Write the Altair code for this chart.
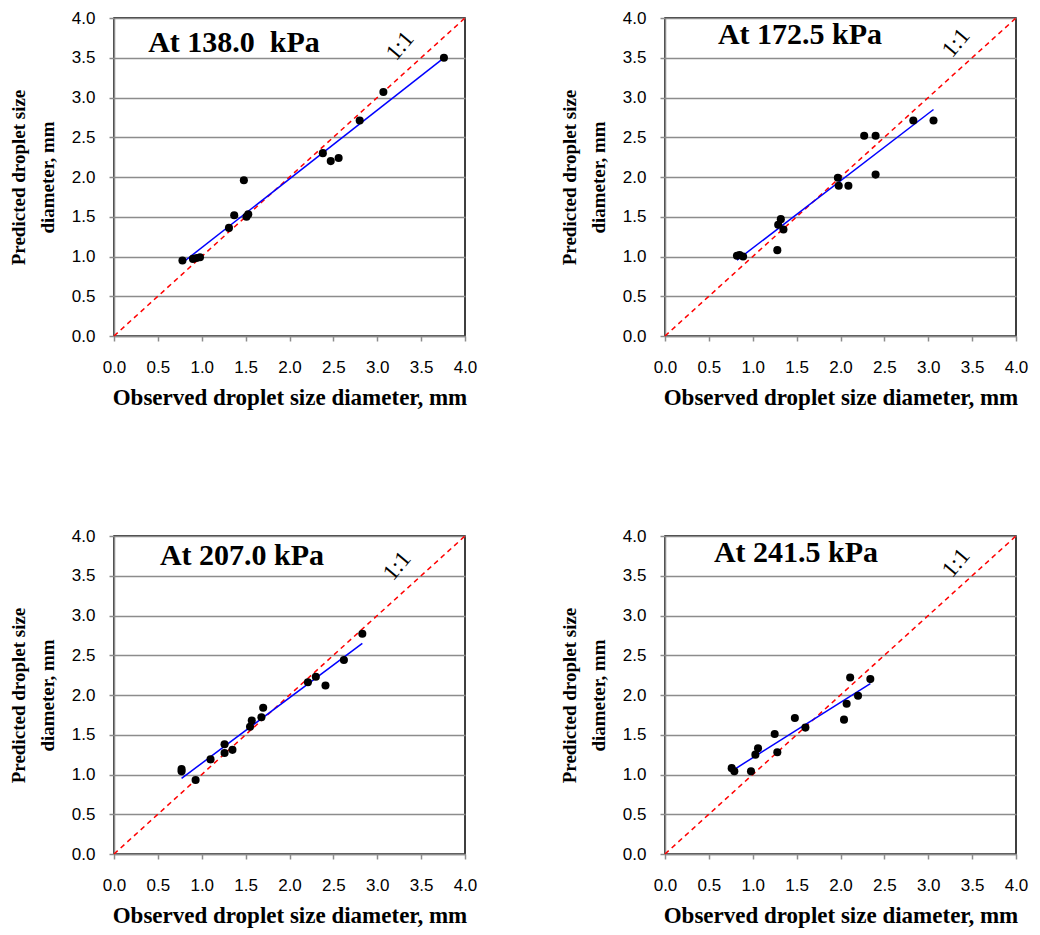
import altair as alt
import pandas as pd

# ---- data ----
obs_138 = [0.78, 0.90, 0.94, 0.98, 1.31, 1.37, 1.48, 1.51, 1.53, 2.38, 2.47, 2.56, 2.80, 3.07, 3.76]
pred_138 = [0.95, 0.97, 0.98, 0.99, 1.36, 1.52, 1.96, 1.50, 1.53, 2.30, 2.20, 2.24, 2.71, 3.07, 3.50]

obs_172 = [0.82, 0.85, 0.89, 1.28, 1.29, 1.32, 1.35, 1.97, 1.98, 2.09, 2.27, 2.40, 2.40, 2.83, 3.06]
pred_172 = [1.01, 1.02, 1.00, 1.08, 1.40, 1.47, 1.34, 1.99, 1.89, 1.89, 2.52, 2.52, 2.03, 2.71, 2.71]

obs_207 = [0.77, 0.77, 0.93, 1.10, 1.26, 1.26, 1.35, 1.55, 1.57, 1.68, 1.70, 2.21, 2.30, 2.41, 2.62, 2.83]
pred_207 = [1.07, 1.04, 0.93, 1.19, 1.38, 1.27, 1.31, 1.60, 1.68, 1.72, 1.84, 2.16, 2.23, 2.12, 2.44, 2.77]

obs_241 = [0.76, 0.79, 0.98, 1.03, 1.06, 1.25, 1.28, 1.48, 1.60, 2.04, 2.07, 2.11, 2.20, 2.34]
pred_241 = [1.08, 1.04, 1.04, 1.25, 1.33, 1.51, 1.28, 1.71, 1.59, 1.69, 1.89, 2.22, 1.99, 2.20]

titles = ["At 138.0 \u00a0kPa", "At 172.5 kPa", "At 207.0 kPa", "At 241.5 kPa"]
diag = [0.0, 4.0]
ticks = [0.0, 0.5, 1.0, 1.5, 2.0, 2.5, 3.0, 3.5, 4.0]

W, H = 351, 318
SERIF = "Liberation Serif"
SANS = "Liberation Sans"

# title & "1:1" label pixel positions inside each plot area (layout only)
title_pos = [(120, 25), (135, 17), (128, 20), (131, 17)]
one_pos = [(286, 28), (291, 25), (283, 30), (291, 27)]


def panel(obs, pred, title, tpos, opos):
    df = pd.DataFrame({"obs": obs, "pred": pred})
    ddf = pd.DataFrame({"obs": diag, "pred": diag})
    xsc = alt.Scale(domain=[0, 4], nice=False, zero=False)
    ysc = alt.Scale(domain=[0, 4], nice=False, zero=False)
    xenc = alt.X("obs:Q", scale=xsc,
                 axis=alt.Axis(values=ticks, format=".1f", labelFlush=False,
                               title="Observed droplet size diameter, mm"))
    yenc = alt.Y("pred:Q", scale=ysc,
                 axis=alt.Axis(values=ticks, format=".1f", labelFlush=False,
                               title=["Predicted droplet size", "diameter, mm"]))

    one = alt.Chart(ddf).mark_line(color="#ff0000", strokeDash=[5, 4], strokeWidth=1.5).encode(
        x=xenc, y=yenc)
    pts = alt.Chart(df).mark_circle(size=65, color="black", opacity=1).encode(x=xenc, y=yenc)
    reg = alt.Chart(df).transform_regression("obs", "pred").mark_line(
        color="#0000ff", strokeWidth=1.5).encode(x=xenc, y=yenc)
    ttl = alt.Chart(pd.DataFrame({"t": [title]})).mark_text(
        font=SERIF, fontSize=30, fontWeight="bold", color="black", align="center", baseline="middle"
    ).encode(text="t:N", x=alt.value(tpos[0]), y=alt.value(tpos[1]))
    lab = alt.Chart(pd.DataFrame({"t": ["1:1"]})).mark_text(
        font=SERIF, fontSize=23, color="black", align="center", baseline="middle", angle=310
    ).encode(text="t:N", x=alt.value(opos[0]), y=alt.value(opos[1]))
    return alt.layer(one, reg, pts, ttl, lab).properties(width=W, height=H)


p1 = panel(obs_138, pred_138, titles[0], title_pos[0], one_pos[0])
p2 = panel(obs_172, pred_172, titles[1], title_pos[1], one_pos[1])
p3 = panel(obs_207, pred_207, titles[2], title_pos[2], one_pos[2])
p4 = panel(obs_241, pred_241, titles[3], title_pos[3], one_pos[3])

row1 = alt.hconcat(p1, p2, spacing=81)
row2 = alt.hconcat(p3, p4, spacing=81)
chart = alt.vconcat(row1, row2, spacing=116).configure_view(
    stroke="black", strokeWidth=1.5
).configure_axis(
    labelFont=SANS, labelFontSize=17, labelColor="black",
    titleFont=SERIF, titleFontWeight="bold", titleColor="black",
    domainColor="#8c8c8c", domainWidth=1.5,
    tickColor="#8c8c8c", tickWidth=1.5, tickSize=5,
).configure_axisX(
    grid=False, labelPadding=18, titlePadding=11, titleFontSize=23,
).configure_axisY(
    grid=True, gridColor="#8c8c8c", gridWidth=1.5,
    labelPadding=14, titlePadding=14, titleFontSize=19, titleLineHeight=29,
).properties(background="white", padding=0)

chart.save("out.html", embed_options={"renderer": "svg", "actions": False})
